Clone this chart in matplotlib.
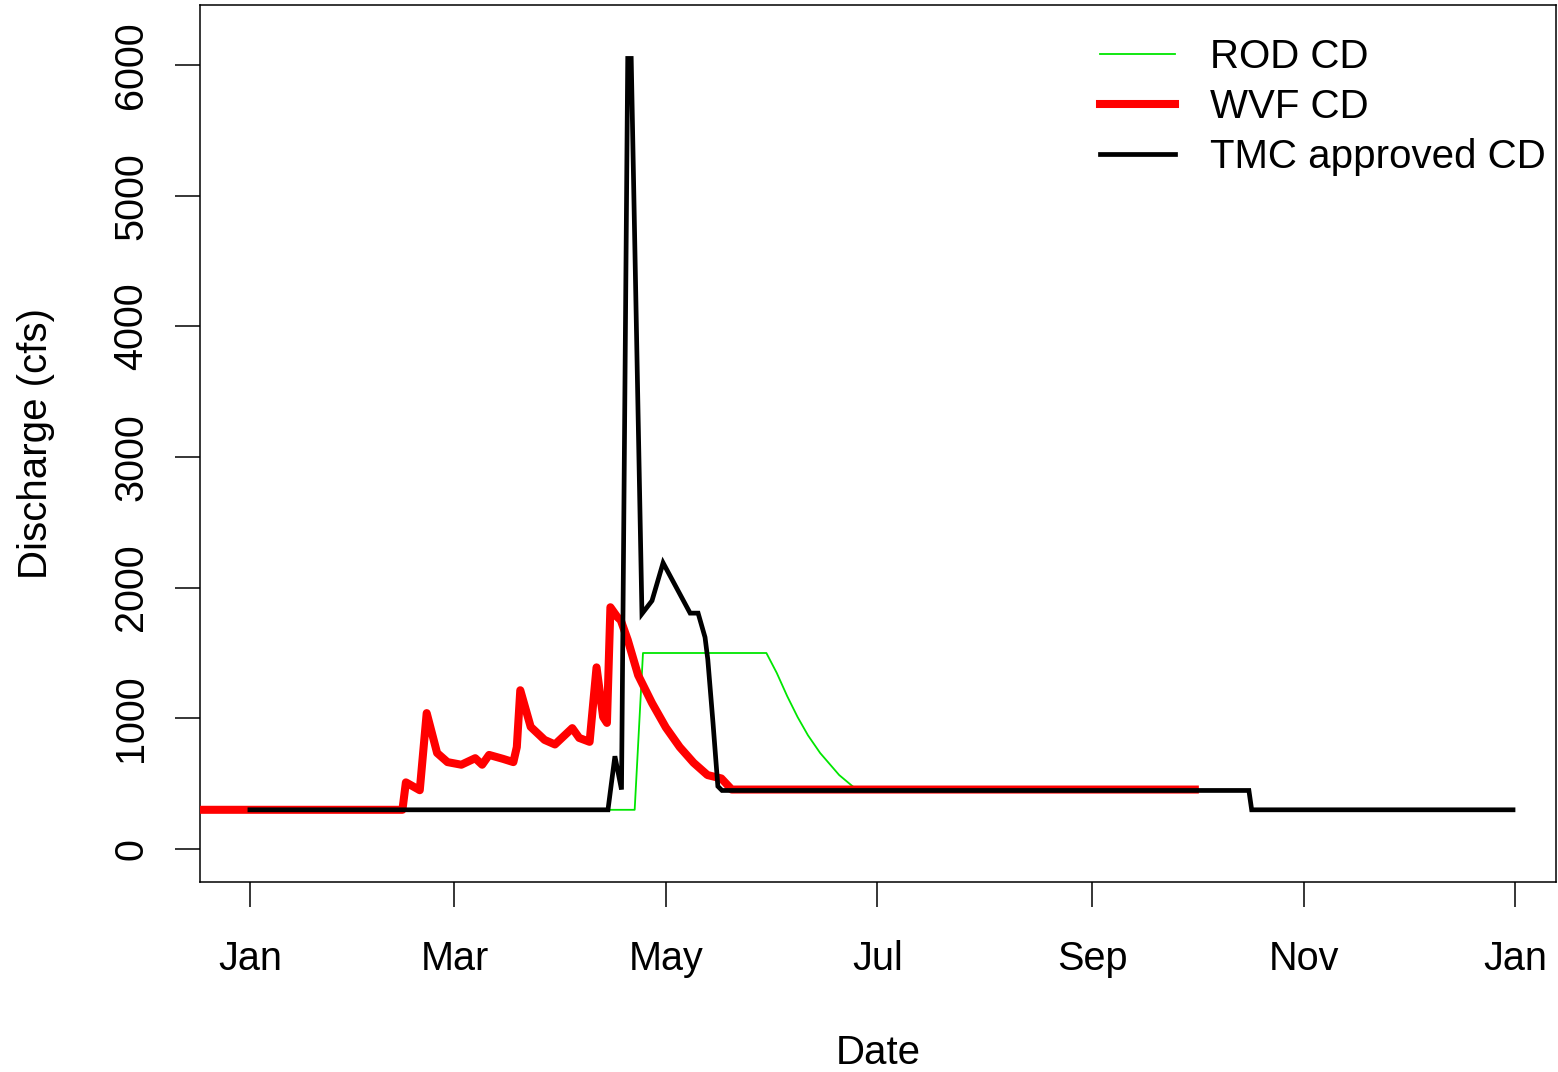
import matplotlib
matplotlib.use("Agg")
import matplotlib.pyplot as plt

plt.rcParams['font.family'] = ['Liberation Sans', 'DejaVu Sans']

# Day of year (0 = Jan 1) and discharge (cfs)
rod_days = [0, 111, 113.4, 149, 152, 155, 158, 161, 164.5, 170, 175, 288.2, 289, 364.4]
rod_vals = [300, 300, 1500, 1500, 1347, 1170, 1010, 870, 735, 566, 455, 450, 300, 300]

wvf_days = [-20, 44, 45, 49, 51, 54, 57, 61, 65, 67, 69, 73, 76, 77, 78, 81, 85, 88,
            93, 95, 98, 100, 101.9, 103, 104, 106, 107, 109, 112, 116, 120, 124, 128,
            132, 136, 139, 272.6]
wvf_vals = [300, 300, 510, 450, 1040, 735, 665, 645, 695, 645, 720, 690, 665, 780,
            1215, 935, 835, 800, 925, 850, 820, 1390, 1010, 965, 1850, 1775, 1750,
            1600, 1330, 1117, 930, 780, 660, 566, 540, 455, 455]

tmc_days = [0, 103.3, 105.3, 107.2, 109, 110, 113.1, 116, 119.2, 127, 129.3, 131.3,
            132.1, 133.6, 135, 136.2, 288.2, 289, 364.4]
tmc_vals = [300, 300, 710, 455, 6050, 6050, 1800, 1900, 2190, 1805, 1805, 1620,
            1450, 965, 480, 448, 448, 300, 300]

month_ticks = [0, 59, 120, 181, 243, 304, 365]
month_labels = ["Jan", "Mar", "May", "Jul", "Sep", "Nov", "Jan"]
y_ticks = [0, 1000, 2000, 3000, 4000, 5000, 6000]

fig = plt.figure(figsize=(15.58, 10.72), dpi=100)
ax = fig.add_axes([200/1558, 1 - 882/1072, 1356/1558, 877/1072])

ax.plot(rod_days, rod_vals, color="#00E600", lw=1.3, label="ROD CD", zorder=2)
ax.plot(wvf_days, wvf_vals, color="#FF0000", lw=5.8, label="WVF CD", zorder=3,
        solid_joinstyle='round')
ax.plot(tmc_days, tmc_vals, color="black", lw=3.4, label="TMC approved CD", zorder=4,
        solid_joinstyle='miter')

ax.set_xlim(-14.4, 376.8)
ax.set_ylim(-252.5, 6459)

ax.set_xticks(month_ticks)
ax.set_xticklabels(month_labels)
ax.set_yticks(y_ticks)
ax.set_yticklabels([str(v) for v in y_ticks], rotation=90, va='center')

ax.tick_params(axis='both', length=18, width=1.1, labelsize=28.5, direction='out')
ax.tick_params(axis='x', pad=24)
ax.tick_params(axis='y', pad=18)
for s in ax.spines.values():
    s.set_linewidth(1.1)

ax.set_xlabel("Date", fontsize=29, labelpad=40)
ax.set_ylabel("Discharge (cfs)", fontsize=29, labelpad=41)

leg = ax.legend(loc='upper left', bbox_to_anchor=(0.6637, 0.962), frameon=False,
                fontsize=29, handlelength=1.87, handletextpad=0.87, labelspacing=0.3,
                borderpad=0, borderaxespad=0)

fig.savefig("out.png", dpi=100)
